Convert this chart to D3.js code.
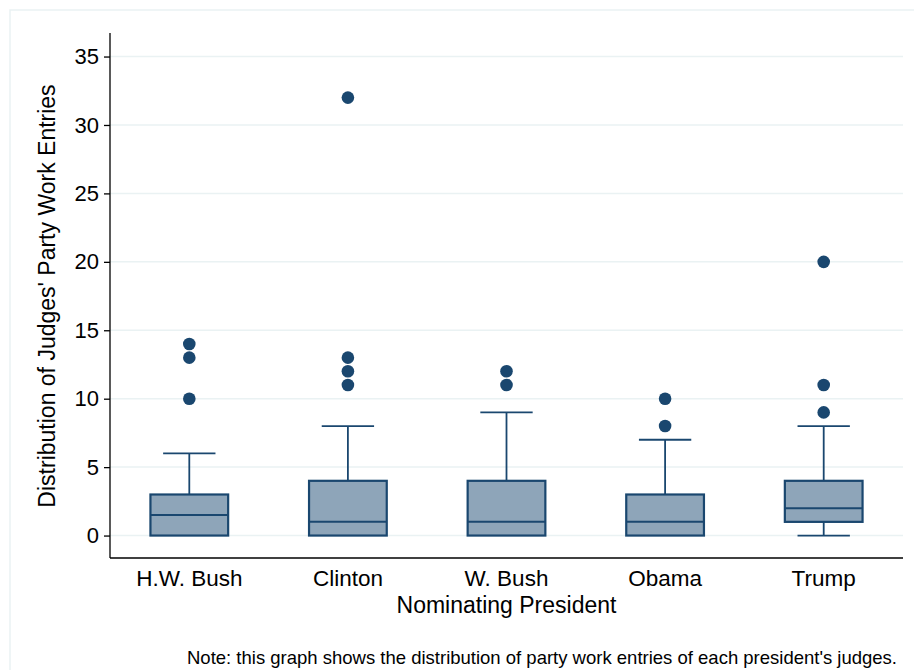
<!DOCTYPE html>
<html>
<head>
<meta charset="utf-8">
<script src="https://cdn.jsdelivr.net/npm/d3@7"></script>
<style>
  html, body { margin: 0; padding: 0; background: #fff; }
  svg { display: block; font-family: "Liberation Sans", Arial, Helvetica, sans-serif; }
</style>
</head>
<body>
<svg id="chart" width="914" height="670"></svg>
<script>
// Party work entries per judge, summarised by nominating president
const presidents = ["H.W. Bush", "Clinton", "W. Bush", "Obama", "Trump"];
const lowerWhisker = [0, 0, 0, 0, 0];
const q1 = [0, 0, 0, 0, 1];
const median = [1.5, 1, 1, 1, 2];
const q3 = [3, 4, 4, 3, 4];
const upperWhisker = [6, 8, 9, 7, 8];
const outliers = [
  [10, 13, 14],
  [11, 12, 13, 32],
  [11, 12],
  [8, 10],
  [9, 11, 20]
];
const yTicks = [0, 5, 10, 15, 20, 25, 30, 35];

const navy = "#1a476f";
const boxFill = "#8ea5b9";
const gridColor = "#eaf2f3";

const svg = d3.select("#chart");

// outer graph region frame
svg.append("rect")
  .attr("x", 10).attr("y", 10)
  .attr("width", 930).attr("height", 690)
  .attr("fill", "#fff")
  .attr("stroke", gridColor).attr("stroke-width", 1.5);

const plotLeft = 110, plotRight = 903, plotTop = 33, plotBottom = 558;

const x = d3.scaleBand().domain(presidents).range([plotLeft, plotRight]);
const y = d3.scaleLinear().domain([-1.64, 36.72]).range([plotBottom, plotTop]);

// horizontal gridlines
svg.append("g").selectAll("line").data(yTicks).join("line")
  .attr("x1", plotLeft).attr("x2", plotRight)
  .attr("y1", d => y(d)).attr("y2", d => y(d))
  .attr("stroke", gridColor).attr("stroke-width", 1.5);

// y axis
const yAxis = svg.append("g")
  .attr("transform", `translate(${plotLeft},0)`)
  .call(d3.axisLeft(y).tickValues(yTicks).tickSize(6).tickPadding(5).tickSizeOuter(0));
yAxis.select(".domain").attr("stroke", "#000").attr("stroke-width", 1.3)
  .attr("d", `M0,${plotTop}V${plotBottom}`);
yAxis.selectAll(".tick line").attr("stroke", "#000").attr("stroke-width", 1.3);
yAxis.selectAll(".tick text").attr("font-size", 22).attr("fill", "#000")
  .attr("font-family", "'Liberation Sans', Arial, sans-serif");

// x axis
const xAxis = svg.append("g")
  .attr("transform", `translate(0,${plotBottom})`)
  .call(d3.axisBottom(x).tickSize(0).tickPadding(12).tickSizeOuter(0));
xAxis.select(".domain").attr("stroke", "#000").attr("stroke-width", 1.3)
  .attr("d", `M${plotLeft},0H${plotRight}`);
xAxis.selectAll(".tick text").attr("font-size", 22.5).attr("fill", "#000")
  .attr("font-family", "'Liberation Sans', Arial, sans-serif");

// boxes
const boxW = x.bandwidth() * 0.49;
const capW = x.bandwidth() * 0.33;
const g = svg.append("g").selectAll("g").data(presidents).join("g")
  .attr("transform", p => `translate(${x(p) + x.bandwidth() / 2},0)`);

// upper whiskers
g.append("line")
  .attr("x1", 0).attr("x2", 0)
  .attr("y1", (p, i) => y(q3[i])).attr("y2", (p, i) => y(upperWhisker[i]))
  .attr("stroke", navy).attr("stroke-width", 1.8);
g.append("line")
  .attr("x1", -capW / 2).attr("x2", capW / 2)
  .attr("y1", (p, i) => y(upperWhisker[i])).attr("y2", (p, i) => y(upperWhisker[i]))
  .attr("stroke", navy).attr("stroke-width", 1.8);

// lower whiskers where the box does not reach the minimum
g.filter((p, i) => lowerWhisker[i] < q1[i]).each(function (p) {
  const i = presidents.indexOf(p);
  const s = d3.select(this);
  s.append("line")
    .attr("x1", 0).attr("x2", 0)
    .attr("y1", y(q1[i])).attr("y2", y(lowerWhisker[i]))
    .attr("stroke", navy).attr("stroke-width", 1.8);
  s.append("line")
    .attr("x1", -capW / 2).attr("x2", capW / 2)
    .attr("y1", y(lowerWhisker[i])).attr("y2", y(lowerWhisker[i]))
    .attr("stroke", navy).attr("stroke-width", 1.8);
});

// interquartile box
g.append("rect")
  .attr("x", -boxW / 2).attr("width", boxW)
  .attr("y", (p, i) => y(q3[i]))
  .attr("height", (p, i) => y(q1[i]) - y(q3[i]))
  .attr("fill", boxFill).attr("stroke", navy).attr("stroke-width", 2.2);

// median
g.append("line")
  .attr("x1", -boxW / 2).attr("x2", boxW / 2)
  .attr("y1", (p, i) => y(median[i])).attr("y2", (p, i) => y(median[i]))
  .attr("stroke", navy).attr("stroke-width", 2);

// outside values
g.each(function (p) {
  const i = presidents.indexOf(p);
  d3.select(this).selectAll("circle").data(outliers[i]).join("circle")
    .attr("cx", 0).attr("cy", d => y(d)).attr("r", 6.3)
    .attr("fill", navy);
});

// axis titles
svg.append("text")
  .attr("transform", "translate(55,296) rotate(-90)")
  .attr("text-anchor", "middle")
  .attr("font-size", 23).attr("fill", "#000")
  .text("Distribution of Judges' Party Work Entries");

svg.append("text")
  .attr("x", (plotLeft + plotRight) / 2).attr("y", 613)
  .attr("text-anchor", "middle")
  .attr("font-size", 23).attr("fill", "#000")
  .text("Nominating President");

// note
svg.append("text")
  .attr("x", 897).attr("y", 664)
  .attr("text-anchor", "end")
  .attr("font-size", 18.5).attr("fill", "#000")
  .text("Note: this graph shows the distribution of party work entries of each president's judges.");
</script>
</body>
</html>
